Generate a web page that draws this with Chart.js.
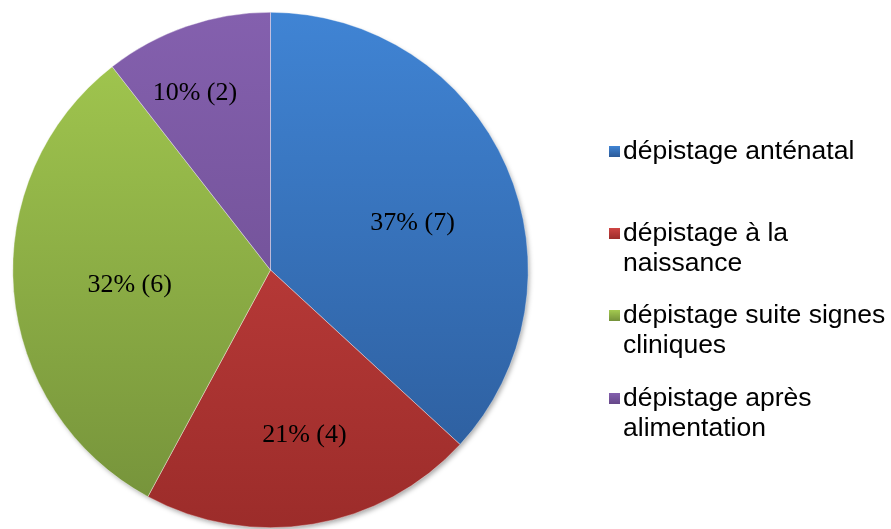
<!DOCTYPE html>
<html lang="fr">
<head>
  <meta charset="UTF-8">
  <title>Circonstances du dépistage</title>
  <script src="https://cdn.jsdelivr.net/npm/chart.js"></script>
  <style>
    body {
      margin: 0;
      padding: 0;
      background-color: #fff;
      width: 891px;
      height: 529px;
      overflow: hidden;
      position: relative;
    }
    #wrap {
      position: absolute;
      left: 0;
      top: 0;
      width: 891px;
      height: 529px;
    }
    /* Legend on the right, drawn as html */
    #legend {
      position: absolute;
      left: 609px;
      top: 0;
      font-family: "Liberation Sans", Arial, sans-serif;
      font-size: 26.5px;
      line-height: 30px;
      color: #000;
    }
    .item {
      position: absolute;
      left: 0;
      width: 285px;
      display: flex;
    }
    .box {
      width: 11px;
      height: 11px;
      margin-top: 11px;
      margin-right: 3px;
      flex: none;
    }
    .txt {
      width: 268px;
    }
  </style>
</head>
<body>
  <div id="wrap"><canvas id="pieChart" width="891" height="529"></canvas></div>
  <div id="legend"></div>

  <script>
    // Data
    const categories = [
      'dépistage anténatal',
      'dépistage à la naissance',
      'dépistage suite signes cliniques',
      'dépistage après alimentation'
    ];
    const counts = [7, 4, 6, 2];
    const percentLabels = ['37%', '21%', '32%', '10%'];

    // top / bottom colours of each slice gradient
    const topColors = ['#4084d4', '#cf4543', '#a4ca50', '#8460ae'];
    const bottomColors = ['#2b5a98', '#9c2c2a', '#74913a', '#664889'];

    // label placement: share of the radius, and angle shift (degrees) from the slice middle
    const labelRadius = [0.58, 0.655, 0.55, 0.746];
    const labelShift = [5.6, -2.1, -1.6, -4.2];
    const legendTops = [135, 217, 299, 382];

    function sliceFill(context) {
      const chart = context.chart;
      const area = chart.chartArea;
      if (!area) return topColors[context.dataIndex];
      const g = chart.ctx.createLinearGradient(0, area.top, 0, area.bottom);
      g.addColorStop(0, topColors[context.dataIndex]);
      g.addColorStop(1, bottomColors[context.dataIndex]);
      return g;
    }

    // soft shadow behind the pie
    const shadowPlugin = {
      id: 'pieShadow',
      beforeDatasetsDraw(chart) {
        const arc = chart.getDatasetMeta(0).data[0];
        if (!arc) return;
        const ctx = chart.ctx;
        ctx.save();
        ctx.shadowColor = 'rgba(0,0,0,0.35)';
        ctx.shadowBlur = 5;
        ctx.shadowOffsetX = 2;
        ctx.shadowOffsetY = 3;
        ctx.fillStyle = '#fff';
        ctx.beginPath();
        ctx.arc(arc.x, arc.y, arc.outerRadius - 1, 0, Math.PI * 2);
        ctx.fill();
        ctx.restore();
      }
    };

    // "37% (7)" labels inside the slices
    const sliceLabels = {
      id: 'sliceLabels',
      afterDatasetsDraw(chart) {
        const ctx = chart.ctx;
        const meta = chart.getDatasetMeta(0);
        ctx.save();
        ctx.font = '26px "Liberation Serif", "Times New Roman", serif';
        ctx.fillStyle = '#000';
        ctx.textAlign = 'center';
        ctx.textBaseline = 'middle';
        meta.data.forEach((arc, i) => {
          const mid = (arc.startAngle + arc.endAngle) / 2 + labelShift[i] * Math.PI / 180;
          const r = arc.outerRadius * labelRadius[i];
          const x = arc.x + Math.cos(mid) * r;
          const y = arc.y + Math.sin(mid) * r;
          ctx.fillText(percentLabels[i] + ' (' + counts[i] + ')', x, y);
        });
        ctx.restore();
      }
    };

    new Chart(document.getElementById('pieChart').getContext('2d'), {
      type: 'pie',
      data: {
        labels: categories,
        datasets: [{
          data: counts,
          backgroundColor: sliceFill,
          borderColor: 'rgba(255,255,255,0.6)',
          borderWidth: 0.6
        }]
      },
      options: {
        responsive: false,
        animation: false,
        layout: {
          padding: { left: 12, top: 12, right: 362, bottom: 1 }
        },
        plugins: {
          legend: { display: false },
          tooltip: { enabled: false }
        }
      },
      plugins: [shadowPlugin, sliceLabels]
    });

    // html legend
    const legend = document.getElementById('legend');
    categories.forEach((name, i) => {
      const item = document.createElement('div');
      item.className = 'item';
      item.style.top = legendTops[i] + 'px';
      const box = document.createElement('div');
      box.className = 'box';
      box.style.background = 'linear-gradient(' + topColors[i] + ',' + bottomColors[i] + ')';
      const txt = document.createElement('div');
      txt.className = 'txt';
      txt.textContent = name;
      item.appendChild(box);
      item.appendChild(txt);
      legend.appendChild(item);
    });
  </script>
</body>
</html>
